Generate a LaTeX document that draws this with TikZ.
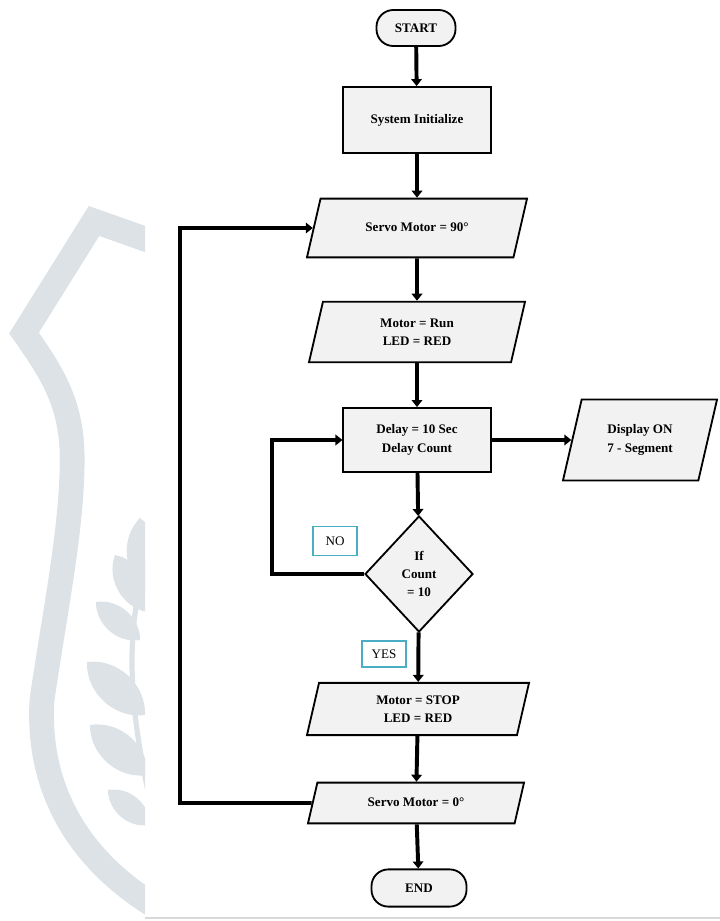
\documentclass[tikz,border=0pt]{standalone}
\usepackage{fontspec}
\setmainfont{Liberation Serif}
\usetikzlibrary{shapes.geometric,arrows.meta}
\definecolor{boxfill}{HTML}{F2F2F2}
\definecolor{wmark}{HTML}{DCE2E6}
\definecolor{tagline}{HTML}{4BACC6}
\tikzset{
  base/.style={draw, line width=1.3pt, fill=boxfill, align=center, inner sep=1pt,
    font=\fontsize{9.3}{13}\selectfont\bfseries},
  term/.style={base, rounded corners=0.42cm},
  procbox/.style={base, rectangle},
  iobox/.style={base, trapezium, trapezium left angle=77, trapezium right angle=103,
    trapezium stretches body},
  decide/.style={base, diamond, minimum width=2.7cm, minimum height=2.9cm, inner sep=0pt},
  tag/.style={draw=tagline, line width=1.2pt, fill=white, inner sep=1pt,
    minimum width=1.1cm, font=\fontsize{9.3}{11}\selectfont},
  flow/.style={line width=2.8pt, -{Triangle[length=5pt,width=7.5pt]}}
}
\begin{document}
\begin{tikzpicture}[x=0.025cm, y=0.025cm]
  \useasboundingbox (0,0) rectangle (720,-921);
  \begin{scope}
    \clip (0,0) rectangle (145,-921);
    \draw[wmark, line width=0.62cm] (165,-246) -- (94,-221) -- (24,-333)
      .. controls (50,-370) and (70,-400) .. (72,-450)
      .. controls (74,-520) and (55,-610) .. (42,-700)
      .. controls (36,-800) and (90,-870) .. (165,-912);
    \draw[wmark, line width=0.13cm] (147,-560) .. controls (128,-620) and (125,-690) .. (150,-800);
    \foreach \bx/\by/\tx/\ty in {146/590/140/518, 147/612/115/555, 140/640/96/602,
        145/715/87/662, 148/775/90/725, 150/825/108/790}
      \fill[wmark] (\bx,-\by) to[bend left=50] (\tx,-\ty) to[bend left=50] (\bx,-\by);
  \end{scope}
  \draw[black!15, line width=1.5pt] (145,-918) -- (720,-918);

  \node[term, minimum width=1.975cm, minimum height=0.9cm] (start) at (416,-28) {START};
  \node[procbox, minimum width=3.7cm, minimum height=1.65cm] (init) at (417,-120) {System Initialize};
  \node[iobox, minimum width=5.5cm, text height=7pt, text depth=2pt, inner ysep=16.4pt] (servo90) at (417,-228) {Servo Motor = 90°};
  \node[iobox, minimum width=5.4cm, inner ysep=12pt] (motorrun) at (417,-332) {Motor = Run\\LED = RED};
  \node[procbox, minimum width=3.68cm, minimum height=1.6cm] (delay) at (417,-440) {Delay = 10 Sec\\Delay Count};
  \node[iobox, minimum width=3.85cm, inner ysep=18pt] (display) at (640,-440) {Display ON\\7 - Segment};
  \node[decide] (check) at (419,-574) {If\\Count\\= 10};
  \node[iobox, minimum width=5.55cm, inner ysep=9pt] (motorstop) at (418,-709) {Motor = STOP\\LED = RED};
  \node[iobox, minimum width=5.4cm, text height=7pt, text depth=2pt, inner ysep=10pt] (servo0) at (416,-803) {Servo Motor = 0°};
  \node[term, minimum width=2.375cm, minimum height=0.93cm] (end) at (419,-888) {END};

  \node[tag, minimum height=0.72cm] (no) at (335,-541) {NO};
  \node[tag, minimum height=0.65cm] (yes) at (384,-654) {YES};

  \coordinate (back1) at (180,-803);
  \coordinate (back2) at (180,-228);
  \coordinate (loop1) at (272,-574);
  \coordinate (loop2) at (272,-440);

  \draw[flow] (start) -- (init);
  \draw[flow] (init) -- (servo90);
  \draw[flow] (servo90) -- (motorrun);
  \draw[flow] (motorrun) -- (delay);
  \draw[flow] (delay) -- (display);
  \draw[flow] (delay) -- (check);
  \draw[flow] (check) -- (motorstop);
  \draw[flow] (motorstop) -- (servo0);
  \draw[flow] (servo0) -- (end);
  \draw[flow] (check.west) -- (loop1) -- (loop2) -- (delay.west);
  \draw[flow] (servo0.west) -- (back1) -- (back2) -- (servo90.west);
\end{tikzpicture}
\end{document}
